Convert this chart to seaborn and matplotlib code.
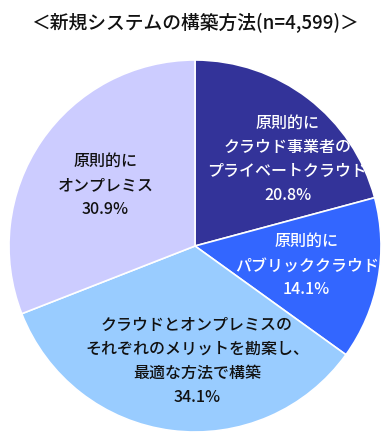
import numpy as np
import matplotlib.pyplot as plt
import seaborn as sns

sns.set_theme(style="white")
plt.rcParams['font.family'] = ['Noto Sans CJK JP', 'DejaVu Sans']

# data
labels = ['原則的に\nクラウド事業者の\nプライベートクラウド',
          '原則的に\nパブリッククラウド',
          'クラウドとオンプレミスの\nそれぞれのメリットを勘案し、\n最適な方法で構築',
          '原則的に\nオンプレミス']
shares = [20.8, 14.1, 34.1, 30.9]
colors = ['#333399', '#3366FF', '#99CCFF', '#CCCCFF']
text_colors = ['white', 'white', '#111111', '#111111']
# label placement (radius fraction, angle in degrees)
label_pos = [(0.68, 43), (0.61, -10), (0.62, -89), (0.58, 146)]

W, H = 389, 440
cx, cy, R = 195, 246, 186

fig = plt.figure(figsize=(W / 100, H / 100), dpi=100)
ax = fig.add_axes([0, 0, 1, 1])
ax.pie(shares, colors=colors, startangle=90, counterclock=False,
       radius=1, wedgeprops=dict(edgecolor='white', linewidth=1.2))
ax.set_xlim(-cx / R, (W - cx) / R)
ax.set_ylim(-(H - cy) / R, cy / R)
ax.set_aspect('equal')
ax.axis('off')

for lab, val, tc, (r, a) in zip(labels, shares, text_colors, label_pos):
    t = np.deg2rad(a)
    ax.text(r * np.cos(t), r * np.sin(t), f'{lab}\n{val:.1f}%',
            ha='center', va='center', color=tc, fontsize=11.5,
            fontweight='medium', linespacing=1.55)

fig.text(0.5, 1 - 23 / H, '＜新規システムの構築方法(n=4,599)＞',
         ha='center', va='center', fontsize=13.5, fontweight='medium',
         color='#111111')

fig.savefig('out.png', dpi=100)
